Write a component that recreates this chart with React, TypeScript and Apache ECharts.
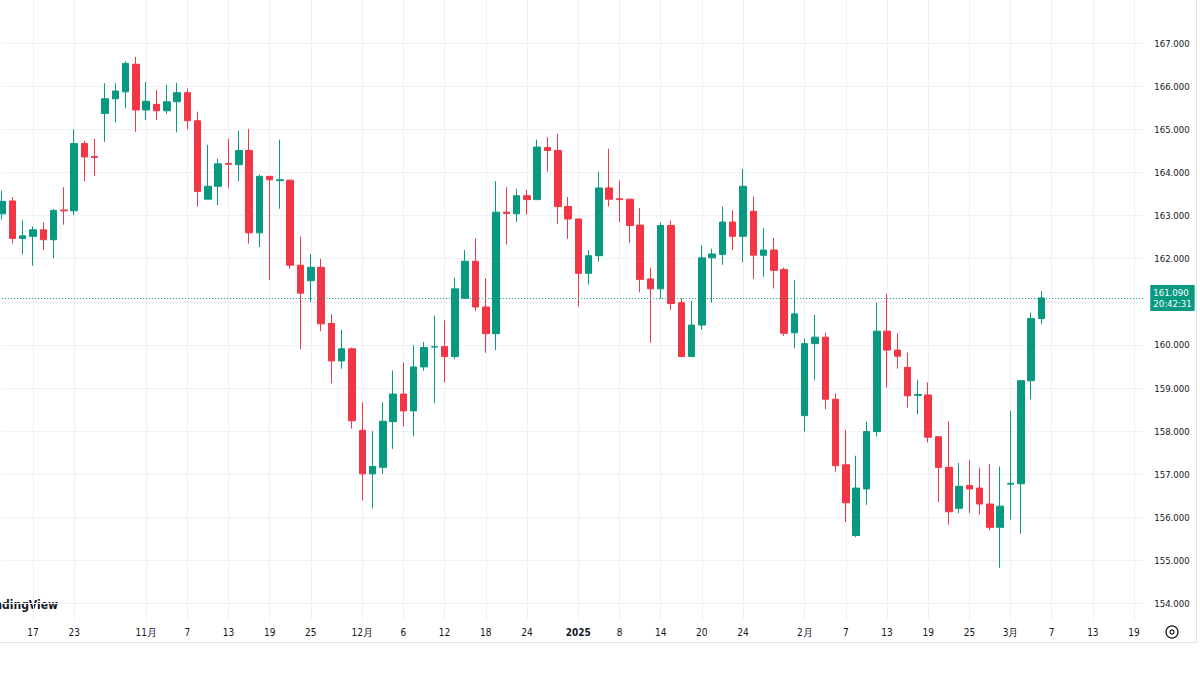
import { useEffect, useRef } from "react";
import * as echarts from "echarts";

// ---- data ----
const startDate = "2024-10-14";
const endDate = "2025-03-20";
const holidays = ["2024-12-25", "2025-01-01"];

const openPrices = [
  163.04, 163.34, 162.47, 162.52, 162.67, 162.44, 163.13, 163.11, 164.67, 164.37,
  165.37, 165.71, 165.87, 166.51, 165.45, 165.58, 165.43, 165.64, 165.85, 165.2,
  163.38, 163.68, 164.21, 164.18, 164.51, 162.6, 163.91, 163.81, 163.82, 161.85,
  161.49, 161.8, 160.5, 159.63, 159.91, 158.02, 157.01, 157.16, 158.22, 158.86,
  158.47, 159.49, 159.95, 159.96, 159.73, 161.08, 161.94, 160.88, 160.26, 163.08,
  163.04, 163.46, 163.37, 164.58, 164.51, 163.21, 162.92, 161.66, 162.07, 163.64,
  163.39, 163.38, 162.78, 161.53, 161.3, 162.77, 160.98, 159.73, 160.46, 162.02,
  162.1, 162.85, 162.52, 163.1, 162.08, 162.2, 161.75, 160.28, 158.36, 160.03,
  160.18, 158.74, 157.22, 155.58, 156.66, 157.99, 160.32, 159.88, 159.48, 158.83,
  158.84, 157.87, 157.16, 156.21, 156.74, 156.68, 156.31, 155.77, 156.77, 156.78,
  159.17, 160.61,
];
const closePrices = [
  163.33, 162.47, 162.53, 162.67, 162.44, 163.12, 163.11, 164.67, 164.36, 164.35,
  165.71, 165.89, 166.53, 165.45, 165.65, 165.43, 165.64, 165.85, 165.2, 163.56,
  163.68, 164.2, 164.19, 164.51, 162.6, 163.91, 163.83, 163.83, 161.85, 161.2,
  161.8, 160.49, 159.63, 159.91, 158.24, 157.01, 157.18, 158.23, 158.86, 158.47,
  159.49, 159.94, 159.96, 159.73, 161.3, 161.94, 160.88, 160.26, 163.08, 163.05,
  163.46, 163.37, 164.59, 164.51, 163.21, 162.92, 161.66, 162.07, 163.64, 163.38,
  163.37, 162.77, 161.52, 161.3, 162.77, 160.96, 159.73, 160.46, 162.02, 162.11,
  162.85, 162.52, 163.68, 162.08, 162.2, 161.73, 160.27, 160.72, 160.03, 160.18,
  158.74, 157.2, 156.34, 156.68, 157.99, 160.32, 159.88, 159.74, 158.82, 158.85,
  157.86, 157.16, 156.13, 156.72, 156.66, 156.31, 155.77, 156.26, 156.79, 159.17,
  160.61, 161.09,
];
const lowPrices = [
  162.91, 162.35, 162.1, 161.84, 162.2, 162.01, 162.79, 163.01, 163.8, 163.92,
  164.71, 165.16, 165.49, 164.94, 165.22, 165.22, 165.36, 164.93, 165.0, 163.21,
  163.38, 163.24, 163.64, 163.8, 162.35, 162.27, 161.5, 163.16, 161.77, 159.9,
  161.0, 160.32, 159.11, 159.45, 158.06, 156.39, 156.21, 157.01, 157.59, 158.11,
  157.88, 159.4, 158.65, 159.13, 159.67, 161.08, 160.78, 159.82, 159.88, 162.33,
  162.85, 163.02, 163.37, 164.02, 162.81, 162.46, 160.89, 161.4, 161.93, 163.21,
  162.85, 162.37, 161.22, 160.05, 161.07, 160.81, 159.72, 159.72, 160.35, 160.98,
  161.86, 162.2, 161.92, 161.53, 161.58, 161.31, 160.21, 159.92, 157.99, 159.19,
  158.51, 157.06, 155.89, 155.54, 156.29, 157.88, 159.01, 159.45, 158.55, 158.39,
  157.74, 156.35, 155.83, 156.1, 156.1, 156.06, 155.7, 154.83, 155.95, 155.62,
  158.74, 160.48,
];
const highPrices = [
  163.58, 163.43, 162.89, 162.75, 162.84, 163.15, 163.66, 165.0, 164.74, 164.78,
  166.07, 166.07, 166.58, 166.68, 166.1, 165.91, 166.03, 166.08, 165.95, 165.41,
  164.64, 164.32, 164.78, 164.97, 165.01, 163.95, 163.92, 164.76, 163.84, 162.51,
  162.11, 162.0, 160.71, 160.35, 159.94, 158.67, 158.0, 158.67, 159.41, 159.59,
  159.99, 160.07, 160.68, 160.57, 161.56, 162.2, 162.47, 161.55, 163.8, 163.66,
  163.62, 163.6, 164.76, 164.82, 164.9, 163.43, 162.93, 162.2, 164.01, 164.55,
  163.81, 163.39, 163.18, 161.79, 162.84, 162.88, 161.08, 161.02, 162.31, 162.23,
  163.21, 163.12, 164.08, 163.44, 162.71, 162.48, 161.79, 161.5, 160.15, 160.7,
  160.28, 158.87, 158.03, 157.43, 158.22, 160.98, 161.19, 160.27, 159.82, 159.19,
  159.13, 157.88, 158.23, 157.26, 157.33, 157.15, 157.24, 157.18, 158.47, 159.18,
  160.75, 161.25,
];

const tickLabels: [string, string][] = [
  ["2024-10-17", "17"], ["2024-10-23", "23"], ["2024-11-01", "11月"], ["2024-11-07", "7"],
  ["2024-11-13", "13"], ["2024-11-19", "19"], ["2024-11-25", "25"], ["2024-12-02", "12月"],
  ["2024-12-06", "6"], ["2024-12-12", "12"], ["2024-12-18", "18"], ["2024-12-24", "24"],
  ["2025-01-02", "2025"], ["2025-01-08", "8"], ["2025-01-14", "14"], ["2025-01-20", "20"],
  ["2025-01-24", "24"], ["2025-02-03", "2月"], ["2025-02-07", "7"], ["2025-02-13", "13"],
  ["2025-02-19", "19"], ["2025-02-25", "25"], ["2025-03-03", "3月"], ["2025-03-07", "7"],
  ["2025-03-13", "13"], ["2025-03-19", "19"],
];

const lastPrice = 161.09;
const countdown = "20:42:31";
const watermark = "TradingView";

// ---- styles ----
const UP = "#089981";
const DOWN = "#F23645";
const TEXT = "#131722";
const GRID = "#eff1f6";
const FONT = "'Liberation Sans Narrow', 'DejaVu Sans Condensed', 'Roboto Condensed', Roboto, sans-serif";

function tradingDays(start: string, end: string, skip: string[]): string[] {
  const out: string[] = [];
  const d = new Date(start + "T00:00:00Z");
  const e = new Date(end + "T00:00:00Z");
  while (d <= e) {
    const wd = d.getUTCDay();
    const s = d.toISOString().slice(0, 10);
    if (wd !== 0 && wd !== 6 && !skip.includes(s)) out.push(s);
    d.setUTCDate(d.getUTCDate() + 1);
  }
  return out;
}

export default function App() {
  const ref = useRef<HTMLDivElement>(null);

  useEffect(() => {
    if (!ref.current) return;
    const chart = echarts.init(ref.current, undefined, { renderer: "svg" });
    const categories = tradingDays(startDate, endDate, holidays);
    const labelMap = new Map(tickLabels);
    const candles = openPrices.map((o, i) => [o, closePrices[i], lowPrices[i], highPrices[i]]);
    const showTick = (_i: number, v: string) => labelMap.has(v);

    chart.setOption({
      animation: false,
      backgroundColor: "#ffffff",
      textStyle: { fontFamily: FONT },
      grid: { left: 2.13, right: 55.7, top: 0, bottom: 55 },
      xAxis: {
        type: "category",
        data: categories,
        boundaryGap: false,
        axisLine: { show: false },
        axisTick: { show: false },
        axisLabel: {
          interval: showTick,
          margin: 7,
          color: TEXT,
          fontSize: 10,
          fontFamily: FONT,
          formatter: (v: string) => {
            const t = labelMap.get(v) ?? "";
            return /^\d{4}$/.test(t) ? `{b|${t}}` : t;
          },
          rich: {
            b: { fontWeight: "bold", fontSize: 10, fontFamily: FONT, color: TEXT },
          },
        },
        splitLine: { show: true, interval: showTick, lineStyle: { color: GRID, width: 1 } },
      },
      yAxis: {
        type: "value",
        position: "right",
        scale: true,
        min: 153.62,
        max: 168,
        splitNumber: 14,
        minInterval: 1,
        maxInterval: 1,
        axisLine: { show: false },
        axisTick: { show: false },
        axisLabel: {
          formatter: (v: number) => v.toFixed(3),
          color: TEXT,
          fontSize: 9.5,
          fontFamily: FONT,
          margin: 10,
          showMinLabel: false,
          showMaxLabel: false,
        },
        splitLine: { show: true, showMinLine: false, showMaxLine: false, lineStyle: { color: GRID, width: 1 } },
      },
      series: [
        {
          type: "candlestick",
          data: candles,
          barWidth: 7,
          itemStyle: { color: UP, color0: DOWN, borderColor: UP, borderColor0: DOWN, borderWidth: 1 },
          markLine: {
            silent: true,
            animation: false,
            symbol: ["none", "none"],
            lineStyle: { color: UP, type: [1, 2], width: 1 },
            label: {
              show: true,
              position: "end",
              distance: 6,
              formatter: `${lastPrice.toFixed(3)}\n${countdown}`,
              backgroundColor: UP,
              color: "#ffffff",
              fontSize: 9.5,
              lineHeight: 11,
              fontFamily: FONT,
              padding: [2, 3, 2, 3],
            },
            data: [{ yAxis: lastPrice }],
          },
        },
      ],
      graphic: [
        {
          type: "text",
          x: 58,
          y: 605,
          style: {
            text: watermark,
            fill: TEXT,
            font: `bold 12px ${FONT}`,
            align: "right",
            verticalAlign: "middle",
          },
        },
        {
          type: "line",
          shape: { x1: 0, y1: 642.5, x2: 1196.5, y2: 642.5 },
          style: { stroke: "#e0e3eb", lineWidth: 1 },
        },
        {
          type: "line",
          shape: { x1: 1196.5, y1: 0, x2: 1196.5, y2: 642.5 },
          style: { stroke: "#e0e3eb", lineWidth: 1 },
        },
        {
          type: "circle",
          shape: { cx: 1172, cy: 632, r: 6 },
          style: { fill: "none", stroke: TEXT, lineWidth: 1.2 },
        },
        {
          type: "circle",
          shape: { cx: 1172, cy: 632, r: 2 },
          style: { fill: "none", stroke: TEXT, lineWidth: 1.2 },
        },
      ],
    });

    return () => chart.dispose();
  }, []);

  return (
    <div
      ref={ref}
      style={{ position: "fixed", left: 0, top: 0, width: 1200, height: 675, background: "#fff" }}
    />
  );
}
